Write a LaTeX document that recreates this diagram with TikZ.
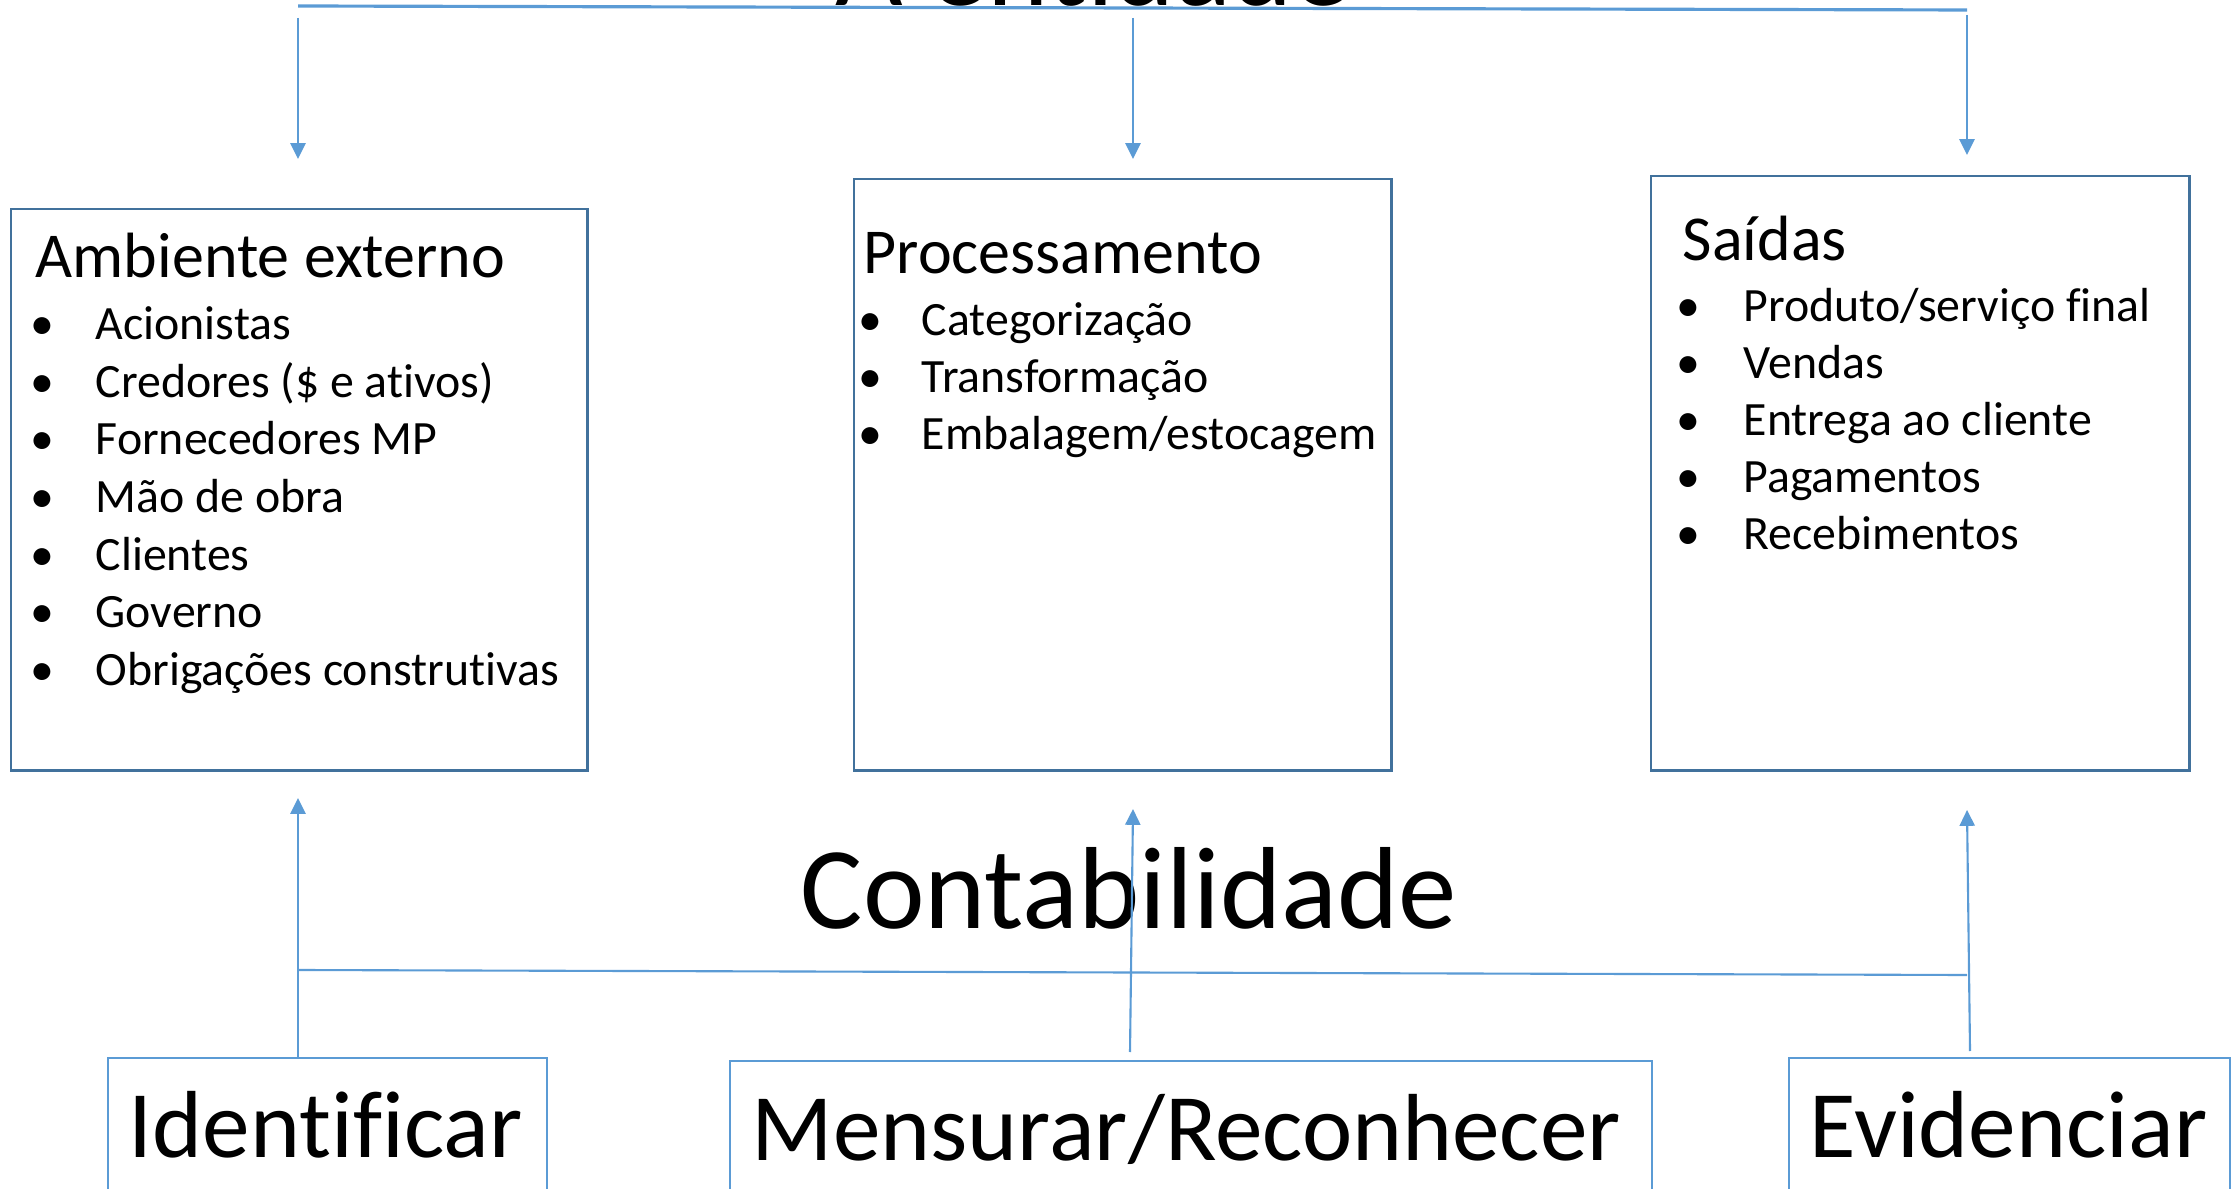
\documentclass[tikz,border=0pt]{standalone}
\usepackage{fontspec}
\setmainfont{Carlito}[Ligatures=NoCommon]
\usetikzlibrary{arrows.meta}
\definecolor{arrowblue}{HTML}{5B9BD5}
\definecolor{boxblue}{HTML}{41719C}
\begin{document}
\begin{tikzpicture}[x=0.01cm,y=-0.01cm,
  conn/.style={draw=arrowblue, line width=0.6pt},
  arr/.style={conn, -{Triangle[width=4.3pt,length=4.5pt]}},
  bigbox/.style={draw=boxblue, line width=0.7pt, rectangle, inner sep=0pt, anchor=north west},
  lowbox/.style={draw=arrowblue, line width=0.6pt, rectangle, inner sep=0pt, anchor=north west},
  txt/.style={inner sep=0pt, anchor=base west},
  boxtitle/.style={txt, font=\fontsize{18.2}{20}\selectfont},
  item/.style={txt, font=\fontsize{13.6}{16}\selectfont},
  hugetxt/.style={inner sep=0pt, anchor=base, font=\fontsize{33.2}{38}\selectfont},
  lowtxt/.style={txt, font=\fontsize{27.1}{32}\selectfont}]
\useasboundingbox (0,0) rectangle (2234,1189);
\clip (0,0) rectangle (2234,1189);

% top title
\node[hugetxt] (entidade) at (1093,6) {A entidade};

% top line and arrows
\coordinate (tl) at (298,6);
\coordinate (tr) at (1967,10);
\draw[conn, line width=0.9pt] (tl) -- (tr);
\coordinate (a1s) at (298,18);   \coordinate (a1e) at (298,159);
\coordinate (a2s) at (1133,18);  \coordinate (a2e) at (1133,159);
\coordinate (a3s) at (1967,15);  \coordinate (a3e) at (1967,155);
\draw[arr] (a1s) -- (a1e);
\draw[arr] (a2s) -- (a2e);
\draw[arr] (a3s) -- (a3e);

% boxes
\node[bigbox, minimum width=5.76cm, minimum height=5.61cm] (b1) at (10,208) {};
\node[bigbox, minimum width=5.37cm, minimum height=5.91cm] (b2) at (853,178) {};
\node[bigbox, minimum width=5.38cm, minimum height=5.94cm] (b3) at (1650,175) {};

% box 1 text
\node[boxtitle] (t1) at (35,278) {Ambiente externo};
\foreach \i/\t [count=\k] in {340/{Acionistas}, 398/{Credores (\$ e ativos)}, 455/{Fornecedores MP}, 513/{Mão de obra}, 571/{Clientes}, 628/{Governo}, 686/{Obrigações construtivas}}{
  \node[item] (b1bul\k) at (30,\i) {•};
  \node[item] (b1it\k) at (95,\i) {\t};
}
% box 2 text
\node[boxtitle] (t2) at (863,274) {Processamento};
\foreach \i/\t [count=\k] in {336/{Categorização}, 393/{Transformação}, 450/{Embalagem/estocagem}}{
  \node[item] (b2bul\k) at (858,\i) {•};
  \node[item] (b2it\k) at (921,\i) {\t};
}
% box 3 text
\node[boxtitle] (t3) at (1682,261) {Saídas};
\foreach \i/\t [count=\k] in {322/{Produto/serviço final}, 379/{Vendas}, 436/{Entrega ao cliente}, 493/{Pagamentos}, 550/{Recebimentos}}{
  \node[item] (b3bul\k) at (1676,\i) {•};
  \node[item] (b3it\k) at (1743,\i) {\t};
}

% middle title
\node[hugetxt] (contab) at (1129,928) {Contabilidade};

% bottom line and arrows
\coordinate (bl) at (298,970);
\coordinate (br) at (1967,975);
\draw[conn] (bl) -- (br);

% bottom boxes
\node[lowbox, minimum width=4.39cm, minimum height=2.2cm] (l1) at (107,1057) {};
\node[lowbox, minimum width=9.21cm, minimum height=2.2cm] (l2) at (729,1060) {};
\node[lowbox, minimum width=4.41cm, minimum height=2.2cm] (l3) at (1788,1057) {};
\node[lowtxt] (idt) at (128,1157) {Identificar};
\node[lowtxt] (mens) at (751,1160) {Mensurar/Reconhecer};
\node[lowtxt] (evid) at (1809,1157) {Evidenciar};

\coordinate (u1s) at (298,1057);  \coordinate (u1e) at (298,798);
\coordinate (u2s) at (1130,1052); \coordinate (u2e) at (1133,809);
\coordinate (u3s) at (1970,1051); \coordinate (u3e) at (1967,810);
\draw[arr] (u1s) -- (u1e);
\draw[arr] (u2s) -- (u2e);
\draw[arr] (u3s) -- (u3e);
\end{tikzpicture}
\end{document}
